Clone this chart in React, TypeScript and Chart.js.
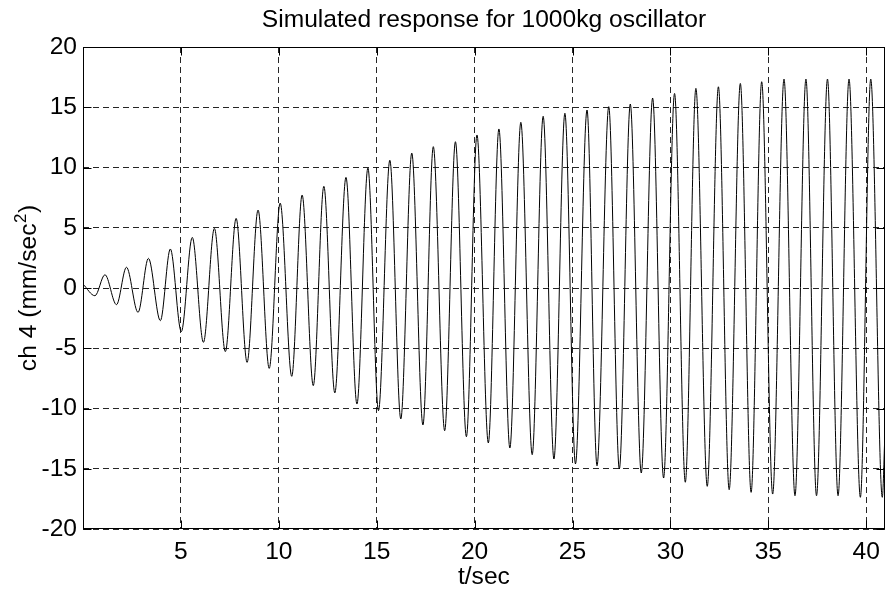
import React, { useEffect, useRef } from "react";
import { Chart, registerables } from "chart.js";

Chart.register(...registerables);

const times = [
  0, 0.61, 1.12, 1.71, 2.22, 2.81, 3.34, 3.95, 4.46, 5.02,
  5.58, 6.15, 6.71, 7.27, 7.82, 8.38, 8.94, 9.51, 10.07, 10.66,
  11.19, 11.76, 12.3, 12.86, 13.43, 13.99, 14.55, 15.09, 15.67, 16.23,
  16.79, 17.36, 17.89, 18.47, 19.02, 19.58, 20.12, 20.7, 21.24, 21.8,
  22.36, 22.94, 23.5, 24.05, 24.61, 25.15, 25.74, 26.25, 26.85, 27.39,
  27.95, 28.51, 29.09, 29.65, 30.21, 30.76, 31.3, 31.88, 32.45, 33.0,
  33.57, 34.12, 34.66, 35.22, 35.8, 36.36, 36.92, 37.46, 38.02, 38.56,
  39.12, 39.7, 40.23, 40.82, 40.95,
];
const values = [
  0.33, -0.64, 1.1, -1.38, 1.72, -2.02, 2.46, -2.71, 3.24, -3.62,
  4.2, -4.51, 4.95, -5.28, 5.78, -6.17, 6.47, -6.67, 7.05, -7.33,
  7.72, -8.1, 8.44, -8.71, 9.18, -9.63, 9.96, -10.18, 10.6, -10.87,
  11.2, -11.37, 11.73, -11.84, 12.14, -12.34, 12.7, -12.86, 13.2, -13.28,
  13.75, -13.83, 14.25, -14.19, 14.5, -14.6, 14.77, -14.75, 15.05, -15.02,
  15.27, -15.35, 15.77, -15.77, 16.15, -16.12, 16.57, -16.46, 16.7, -16.74,
  16.98, -16.96, 17.12, -17.1, 17.34, -17.24, 17.34, -17.24, 17.34, -17.24,
  17.34, -17.37, 17.34, -17.37, -12.25,
];

const xTicks = [5, 10, 15, 20, 25, 30, 35, 40];
const yTicks = [-20, -15, -10, -5, 0, 5, 10, 15, 20];
const X_MIN = 0;
const X_MAX = 40.95;
const Y_MIN = -20;
const Y_MAX = 20;

const TITLE = "Simulated response for 1000kg oscillator";
const X_LABEL = "t/sec";
const Y_LABEL_MAIN = "ch 4 (mm/sec";
const Y_LABEL_SUP = "2";
const Y_LABEL_END = ")";

const FONT = "'Liberation Sans', Arial, Helvetica, sans-serif";
const FS = 24.6;

const boxPlugin = {
  id: "matlabBox",
  afterDraw(chart: any) {
    const { ctx, chartArea: a, scales } = chart;
    const L = Math.round(a.left) + 0.5;
    const R = Math.round(a.right) - 0.5;
    const T = Math.round(a.top) + 0.5;
    const B = Math.round(a.bottom) - 0.5;
    const tl = 8;
    ctx.save();
    ctx.strokeStyle = "#000";
    ctx.lineWidth = 1;
    ctx.setLineDash([]);
    ctx.beginPath();
    for (const v of xTicks) {
      const px = Math.round(scales.x.getPixelForValue(v)) + 0.5;
      ctx.moveTo(px, B);
      ctx.lineTo(px, B - tl);
      ctx.moveTo(px, T);
      ctx.lineTo(px, T + tl);
    }
    for (const v of yTicks) {
      const py = Math.round(scales.y.getPixelForValue(v)) + 0.5;
      ctx.moveTo(L, py);
      ctx.lineTo(L + tl, py);
      ctx.moveTo(R, py);
      ctx.lineTo(R - tl, py);
    }
    ctx.stroke();
    ctx.strokeRect(L, T, R - L, B - T);

    // y-axis label with a real superscript
    const mainFont = `${FS}px ${FONT}`;
    const supFont = `${Math.round(FS * 0.7)}px ${FONT}`;
    ctx.fillStyle = "#000";
    ctx.textBaseline = "middle";
    ctx.textAlign = "left";
    ctx.font = mainFont;
    const w1 = ctx.measureText(Y_LABEL_MAIN).width;
    const w3 = ctx.measureText(Y_LABEL_END).width;
    ctx.font = supFont;
    const w2 = ctx.measureText(Y_LABEL_SUP).width;
    const total = w1 + w2 + w3 + 1;
    const cy = (a.top + a.bottom) / 2;
    ctx.translate(29, cy);
    ctx.rotate(-Math.PI / 2);
    let x = -total / 2;
    ctx.font = mainFont;
    ctx.fillText(Y_LABEL_MAIN, x, 0);
    x += w1 + 0.5;
    ctx.font = supFont;
    ctx.fillText(Y_LABEL_SUP, x, -8);
    x += w2 + 0.5;
    ctx.font = mainFont;
    ctx.fillText(Y_LABEL_END, x, 0);
    ctx.restore();
  },
};

export default function App() {
  const ref = useRef<HTMLCanvasElement | null>(null);

  useEffect(() => {
    if (!ref.current) return;
    const data = times.map((t, i) => ({ x: t, y: values[i] }));
    const chart = new Chart(ref.current, {
      type: "line",
      data: {
        datasets: [
          {
            data,
            borderColor: "#000",
            borderWidth: 1,
            pointRadius: 0,
            fill: false,
            cubicInterpolationMode: "monotone",
          },
        ],
      },
      options: {
        responsive: false,
        animation: false,
        parsing: false as any,
        layout: { padding: { top: 0, left: 0, right: 1, bottom: 0 } },
        plugins: {
          legend: { display: false },
          tooltip: { enabled: false },
          title: {
            display: true,
            fullSize: false,
            text: TITLE,
            color: "#000",
            font: { family: FONT, size: FS, weight: "normal", lineHeight: 1.2 },
            padding: { top: 5.5, bottom: 12 },
          },
        },
        scales: {
          x: {
            type: "linear",
            min: X_MIN,
            max: X_MAX,
            afterBuildTicks: (s: any) => {
              s.ticks = xTicks.map((v) => ({ value: v }));
            },
            afterFit: (s: any) => {
              s.height = 64;
            },
            grid: {
              color: "rgba(0,0,0,0.85)",
              lineWidth: 1,
              drawTicks: false,
            },
            border: { display: false, dash: [6, 4] },
            ticks: {
              color: "#000",
              font: { family: FONT, size: FS },
              padding: 8,
              maxRotation: 0,
              autoSkip: false,
            },
            title: {
              display: true,
              text: X_LABEL,
              color: "#000",
              font: { family: FONT, size: FS },
              padding: { top: 0, bottom: 1 },
            },
          },
          y: {
            type: "linear",
            min: Y_MIN,
            max: Y_MAX,
            afterBuildTicks: (s: any) => {
              s.ticks = yTicks.map((v) => ({ value: v }));
            },
            afterFit: (s: any) => {
              s.width = 83;
            },
            grid: {
              color: "rgba(0,0,0,0.85)",
              lineWidth: 1,
              drawTicks: false,
            },
            border: { display: false, dash: [6, 4] },
            ticks: {
              color: "#000",
              font: { family: FONT, size: FS },
              padding: 6,
            },
            title: { display: false },
          },
        },
      },
      plugins: [boxPlugin],
    } as any);
    return () => chart.destroy();
  }, []);

  return (
    <div style={{ position: "absolute", left: 0, top: 0, width: 888, height: 593, background: "#fff" }}>
      <canvas ref={ref} width={888} height={593} style={{ display: "block" }} />
    </div>
  );
}
